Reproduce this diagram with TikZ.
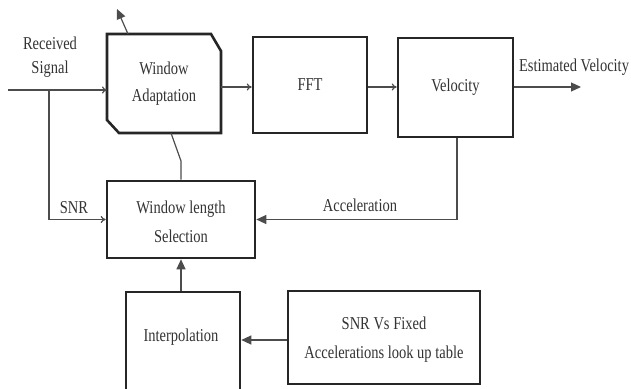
\documentclass[tikz,border=0pt]{standalone}
\usepackage{fontspec}
\setmainfont{Liberation Serif}
\usetikzlibrary{arrows.meta}
\newcommand\tl[1]{\scalebox{1}[1.25]{#1}}
\begin{document}
\begin{tikzpicture}[x=1pt,y=-1pt,
  blk/.style={draw=black!85, line width=2.6pt, fill=white},
  lbl/.style={font=\fontsize{14.5}{17}\selectfont, text=black!80, align=center, inner sep=0pt},
  con/.style={draw=black!70, line width=1.2pt},
  opentip/.style={con, -{To[length=5pt,width=7pt]}},
  filltip/.style={con, -{Triangle[length=10pt,width=9pt]}}]
\useasboundingbox (0,0) rectangle (631,388);
\clip (0,0) rectangle (631,388);
% Window Adaptation (chamfered)
\draw[blk] (107,34) -- (211,34) -- (221,51) -- (221,133) -- (119,133) -- (107,120) -- cycle;
\node[lbl] (wa) at (164,84) {\tl{Window}\\[10pt]\tl{Adaptation}};
\coordinate (waL) at (107,90);
\coordinate (waR) at (221,87);
\coordinate (waT) at (128,34);
\coordinate (waB) at (171,133);
\coordinate (waOut) at (117,9);
% FFT
\node[blk, minimum width=114pt, minimum height=96pt] (fft) at (310,85) {};
\node[lbl] at (fft) {\tl{FFT}};
% Velocity
\node[blk, minimum width=115pt, minimum height=99pt] (vel) at (455.5,87.5) {};
\node[lbl] at (vel) {\tl{Velocity}};
% Window length selection
\node[blk, minimum width=148pt, minimum height=77pt] (wls) at (181,219.5) {};
\node[lbl] at (181,222) {\tl{Window length}\\[12pt]\tl{Selection}};
% Interpolation
\node[blk, minimum width=114pt, minimum height=110pt] (itp) at (183,347) {};
\node[lbl] at (181,337) {\tl{Interpolation}};
% SNR table
\node[blk, minimum width=192pt, minimum height=93pt] (tab) at (384,337.5) {};
\node[lbl] at (384,340) {\tl{SNR Vs Fixed}\\[12pt]\tl{Accelerations look up table}};
% labels
\node[lbl] (rs) at (50,57) {\tl{Received}\\[7pt]\tl{Signal}};
\node[lbl] (ev) at (574,67) {\tl{Estimated Velocity}};
\node[lbl] (snr) at (74,208) {\tl{SNR}};
\node[lbl] (acc) at (360,205) {\tl{Acceleration}};
% connectors
\coordinate (in) at (8,90);
\coordinate (br) at (49,90);
\coordinate (out) at (581,87);
\draw[opentip] (in) -- (waL);
\draw[opentip] (br) |- (wls.west);
\draw[opentip] (waR) -- (fft.west |- waR);
\draw[opentip] (fft.east |- waR) -- (vel.west |- waR);
\draw[filltip] (vel.east |- waR) -- (out);
\draw[filltip] (waT) -- (waOut);
\draw[con] (waB) -- (181,161) -- (wls.north);
\draw[filltip] (vel.south -| 457,0) |- (wls.east);
\draw[filltip] (itp.north -| wls) -- (wls.south);
\draw[filltip] (tab.west |- 0,340) -- (itp.east |- 0,340);
\end{tikzpicture}
\end{document}
